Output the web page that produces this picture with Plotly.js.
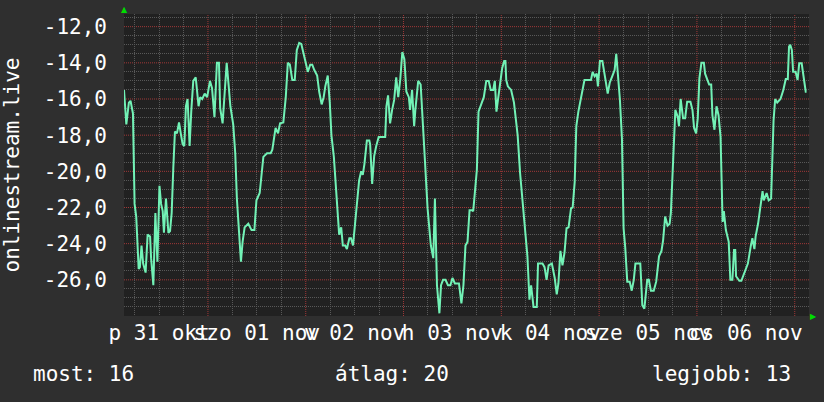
<!DOCTYPE html>
<html><head><meta charset="utf-8">
<script src="https://cdn.plot.ly/plotly-3.0.1.min.js"></script>
<style>html,body{margin:0;padding:0;background:#2f2f2f;}#chart{width:824px;height:402px;}</style>
</head><body><div id="chart"></div>
<script>
// hours since 2025-10-31 00:00
const hours = [3.4,3.97,4.6,5.0,5.6,6.0,6.4,7.0,7.3,7.7,8.1,8.7,9.2,9.8,10.05,10.6,11.1,11.6,12.1,12.5,12.9,13.2,13.7,14.3,14.7,15.1,15.5,15.9,16.4,16.9,17.4,17.8,18.2,18.6,19.0,19.5,19.9,20.4,21.0,21.7,22.1,22.6,23.2,23.8,
24.5,25.0,25.6,26.2,26.7,27.0,27.6,28.2,28.6,29.1,29.5,30.2,30.7,31.1,31.6,32.1,32.5,33.0,33.9,34.7,35.4,35.9,36.7,37.1,37.6,38.5,39.4,39.8,40.2,40.6,41.2,41.7,42.5,43.1,43.6,44.1,44.7,45.3,45.8,46.4,46.9,47.4,
48.0,48.5,49.1,49.6,50.1,50.8,51.3,51.9,52.4,52.8,53.4,53.9,54.3,54.9,55.3,55.8,56.2,56.7,57.1,57.7,58.1,58.7,59.1,59.6,60.0,60.6,61.1,61.6,62.0,62.4,63.0,63.6,63.8,64.3,64.8,65.3,65.9,67.5,67.8,68.2,68.7,69.2,69.7,70.2,70.7,71.2,71.7,
72.2,72.7,73.3,73.6,74.1,74.6,74.9,75.6,76.2,76.6,77.2,77.9,78.3,78.7,79.3,79.7,80.2,80.8,81.2,81.7,82.3,82.9,83.5,84.0,84.6,85.6,86.2,86.7,87.2,87.7,88.2,88.8,89.1,89.5,90.0,90.4,91.1,91.7,92.3,92.9,93.4,94.0,94.4,94.8,95.2,95.7,
96.2,96.7,97.0,97.2,97.6,98.4,99.1,99.6,100.0,100.6,101.4,101.9,102.4,102.9,103.3,103.9,104.7,105.0,106.1,106.6,107.1,107.6,108.4,109.1,109.6,110.0,110.5,111.0,111.5,112.0,112.5,113.1,113.5,114.0,114.4,114.9,115.5,115.9,116.4,118.0,118.4,118.9,119.4,119.7,
120.2,120.8,121.1,121.6,122.1,122.6,123.3,123.8,124.2,124.7,125.1,125.6,126.0,126.4,126.9,127.5,128.0,128.5,128.9,130.1,130.6,131.1,131.8,132.2,132.7,133.4,134.0,134.7,135.3,135.7,136.2,136.8,137.3,137.6,138.0,138.3,138.7,139.3,139.6,140.0,140.6,141.1,141.6,142.4,142.9,143.3,143.8,
144.2,144.6,145.1,145.7,146.0,146.5,147.0,147.5,147.8,148.3,148.8,149.3,149.8,150.3,150.6,151.1,151.8,152.2,152.7,153.1,153.4,153.6,154.4,154.9,155.3,155.8,156.5,157.2,157.6,158.1,158.4,159.0,159.6,160.1,160.4,161.1,161.6,162.2,162.8,163.2,163.7,164.5,165.2,165.8,166.3,166.6,166.9,167.3,167.6,168.2,168.7,169.1,169.7,170.2,170.7,170.9];
const values = [-15.5,-17.4,-16.2,-16.1,-16.8,-21.8,-22.5,-25.4,-25.3,-24.1,-25.1,-25.6,-23.5,-23.6,-24.8,-26.3,-22.3,-25.0,-20.8,-21.8,-22.2,-23.4,-21.5,-23.4,-23.3,-22.3,-19.8,-17.8,-17.9,-17.3,-18.0,-18.5,-18.6,-16.4,-16.0,-18.6,-16.7,-15.0,-14.8,-16.4,-15.9,-16.0,-15.7,-15.9,
-15.0,-15.4,-17.0,-14.0,-14.0,-16.5,-17.35,-15.3,-14.0,-15.3,-16.4,-17.4,-19.0,-21.5,-23.1,-25.0,-23.9,-23.1,-22.9,-23.25,-23.25,-21.6,-21.2,-20.1,-19.2,-19.0,-19.0,-18.8,-18.2,-17.6,-17.9,-17.35,-17.3,-15.9,-14.0,-14.1,-14.95,-14.95,-13.3,-12.9,-12.95,-13.5,
-14.0,-14.5,-14.1,-14.1,-14.4,-14.7,-15.6,-16.3,-15.9,-15.3,-14.7,-16.2,-18.0,-19.2,-20.6,-22.5,-23.5,-23.1,-24.1,-24.1,-24.3,-23.7,-23.7,-24.1,-23.15,-21.8,-20.5,-20.0,-20.2,-19.6,-18.3,-18.3,-18.5,-20.7,-19.15,-18.6,-18.1,-18.1,-16.4,-15.8,-17.35,-16.6,-16.05,-14.8,-15.9,-14.9,-13.4,
-13.8,-15.6,-15.9,-16.6,-15.5,-17.5,-16.6,-15.0,-15.2,-16.6,-19.2,-22.05,-23.15,-24.1,-24.8,-21.5,-26.3,-27.85,-26.3,-26.0,-26.0,-26.3,-26.3,-25.9,-26.2,-26.2,-27.3,-26.3,-24.1,-23.9,-22.15,-22.15,-22.2,-21.2,-19.9,-16.7,-16.2,-15.9,-15.0,-15.0,-15.5,-15.5,-15.0,-16.7,-16.0,-15.0,
-14.3,-13.9,-13.9,-14.95,-15.3,-15.5,-16.2,-17.2,-18.0,-20.1,-22.1,-23.06,-24.7,-27.1,-26.3,-27.5,-27.5,-25.1,-25.1,-25.3,-26.0,-25.2,-25.1,-25.9,-26.8,-26.2,-24.4,-25.2,-24.5,-23.15,-23.1,-22.05,-22.0,-20.6,-17.5,-16.7,-16.05,-15.5,-14.95,-14.95,-14.5,-14.75,-14.6,-15.3,
-13.9,-13.9,-14.4,-15.0,-15.7,-15.1,-14.7,-14.4,-13.5,-14.95,-16.05,-18.2,-23.15,-24.2,-26.1,-26.1,-26.6,-26.0,-25.1,-25.1,-27.4,-27.6,-26.0,-26.0,-26.6,-26.6,-26.1,-24.7,-24.4,-23.8,-22.5,-23.0,-22.9,-22.3,-20.2,-17.9,-16.6,-17.0,-17.5,-16.0,-17.07,-17.07,-16.15,-16.15,-16.6,-17.6,-17.9,
-17.07,-14.86,-14.0,-14.0,-14.6,-14.9,-15.2,-15.2,-16.9,-17.7,-16.4,-16.9,-18.1,-22.8,-22.2,-23.25,-23.9,-26.0,-26.0,-24.35,-24.35,-25.8,-26.05,-26.05,-25.8,-25.5,-25.1,-24.15,-23.7,-24.3,-23.6,-22.9,-21.95,-21.1,-21.6,-21.2,-21.6,-21.5,-17.2,-16.0,-16.2,-16.0,-15.5,-14.9,-14.9,-13.1,-13.0,-13.3,-14.5,-14.5,-14.95,-14.03,-14.03,-14.7,-15.6,-15.6];

// Hungarian calendar names used for the day tick labels ("%a %d %b")
const shortDays = ['v','h','k','sze','cs','p','szo'];
const dayNames = ['vasárnap','hétfő','kedd','szerda','csütörtök','péntek','szombat'];
const shortMonths = ['jan','feb','márc','ápr','máj','jún','júl','aug','szept','okt','nov','dec'];
const monthNames = ['január','február','március','április','május','június','július','augusztus','szeptember','október','november','december'];
const yTickVals = [-26,-24,-22,-20,-18,-16,-14,-12];
const yTickText = ['-26,0','-24,0','-22,0','-20,0','-18,0','-16,0','-14,0','-12,0'];
const yTitle = 'onlinestream.live';
const legendTexts = ['most: 16','átlag: 20','legjobb: 13'];

const startMs = Date.UTC(2025,9,31);
const HOUR = 3600000;
const toMs = h => startMs + h*HOUR;
const toDate = h => new Date(toMs(h)).toISOString().replace('T',' ').slice(0,19);
const xRange = [toDate(3.4), toDate(171.5)];
const yRange = [-28.0, -11.3];

// grid positions: midnights (major), every 6 h / 0.5 unit otherwise (fine)
const xMajor = [], xFine = [];
for (let d = 1; d < 8; d++) xMajor.push(toDate(d*24));
for (let d = 0; d < 8; d++) for (const q of [6, 12, 18]) xFine.push(toDate(d*24 + q));
const yFine = [];
for (let k = -56; k <= -23; k++) { const v = k/2; if (!yTickVals.includes(v)) yFine.push(v); }

const FONT = 'DejaVu Sans Mono, monospace';
const txt = '#ffffff';
const majorGrid = '#a03838';
const minorGrid = '#585858';
const gridDash = '1px,1px';

const xs = hours.map(toDate);
const trace = {
  x: xs, y: values, xaxis: 'x', yaxis: 'y',
  type: 'scatter', mode: 'lines',
  line: {color: '#72f2b6', width: 2, shape: 'linear'},
  hoverinfo: 'skip'
};
// invisible companion trace that carries the fine-grid overlay axes
const carrier = {
  x: xs, y: values, xaxis: 'x2', yaxis: 'y2',
  type: 'scatter', mode: 'lines', opacity: 0,
  line: {color: 'rgba(0,0,0,0)', width: 0}, hoverinfo: 'skip'
};

const legendY = (316-373.6)/302;
const legendFont = {family:FONT, size:21, color:txt};

const gridAxis = (extra) => Object.assign({
  fixedrange: true, showticklabels: false, ticks: '',
  showgrid: true, griddash: gridDash, gridwidth: 1,
  zeroline: false, showline: false
}, extra);

// major grid lines drawn on the axis scales (red dotted, RRD style)
const majorShapes = [
  ...xMajor.map(v => ({type:'line', xref:'x', yref:'paper', x0:v, x1:v, y0:0, y1:1, layer:'below', line:{color:majorGrid, width:1, dash:gridDash}})),
  ...yTickVals.map(v => ({type:'line', xref:'paper', yref:'y', x0:0, x1:1, y0:v, y1:v, layer:'below', line:{color:majorGrid, width:1, dash:gridDash}}))
];

const layout = {
  width: 824, height: 402,
  margin: {l:124, r:15, t:14, b:86},
  paper_bgcolor: '#2f2f2f', plot_bgcolor: '#212121',
  showlegend: false,
  font: {family: FONT, size: 21, color: txt},
  xaxis: {
    type: 'date', range: xRange, fixedrange: true,
    tickmode: 'linear', tick0: toDate(0), dtick: 24*HOUR,
    tickformat: '%a %d %b', ticklabelmode: 'period',
    tickangle: 0, ticks: '', ticklabelstandoff: 2,
    tickfont: {family: FONT, size: 21, color: txt},
    showgrid: false, zeroline: false, showline: false
  },
  yaxis: {
    range: yRange, fixedrange: true,
    tickmode: 'array', tickvals: yTickVals, ticktext: yTickText,
    showgrid: false, zeroline: false, showline: false, ticks: '', ticklabelstandoff: 16,
    tickfont: {family: FONT, size: 21, color: txt},
    title: {text: yTitle, font: {family: FONT, size: 21, color: txt}, standoff: 22}
  },
  xaxis2: gridAxis({type: 'date', overlaying: 'x', anchor: 'y2', range: xRange, tickmode: 'array', tickvals: xFine, gridcolor: minorGrid}),
  yaxis2: gridAxis({overlaying: 'y', anchor: 'x2', range: yRange, tickmode: 'array', tickvals: yFine, gridcolor: minorGrid}),
  shapes: majorShapes,
  annotations: [
    {text: legendTexts[0], xref:'paper', yref:'paper', x:(31-124)/685, y:legendY, xanchor:'left', yanchor:'middle', showarrow:false, font:legendFont},
    {text: legendTexts[1], xref:'paper', yref:'paper', x:(333-124)/685, y:legendY, xanchor:'left', yanchor:'middle', showarrow:false, font:legendFont},
    {text: legendTexts[2], xref:'paper', yref:'paper', x:(649.5-124)/685, y:legendY, xanchor:'left', yanchor:'middle', showarrow:false, font:legendFont},
    {text: '▲', xref:'paper', yref:'paper', x:0, y:(316-10)/302, xanchor:'center', yanchor:'middle', showarrow:false, font:{family:'DejaVu Sans',size:8,color:'#00dd00'}},
    {text: '▶', xref:'paper', yref:'paper', x:(813-124)/685, y:0, xanchor:'center', yanchor:'middle', showarrow:false, font:{family:'DejaVu Sans',size:8,color:'#00dd00'}}
  ]
};

const huLocale = {
  dictionary: {},
  format: {days: dayNames, shortDays: shortDays, months: monthNames, shortMonths: shortMonths, decimal: ',', thousands: ' '}
};

Plotly.newPlot('chart', [carrier, trace], layout, {displayModeBar: false, staticPlot: true, locale: 'hu', locales: {hu: huLocale}});
</script></body></html>
